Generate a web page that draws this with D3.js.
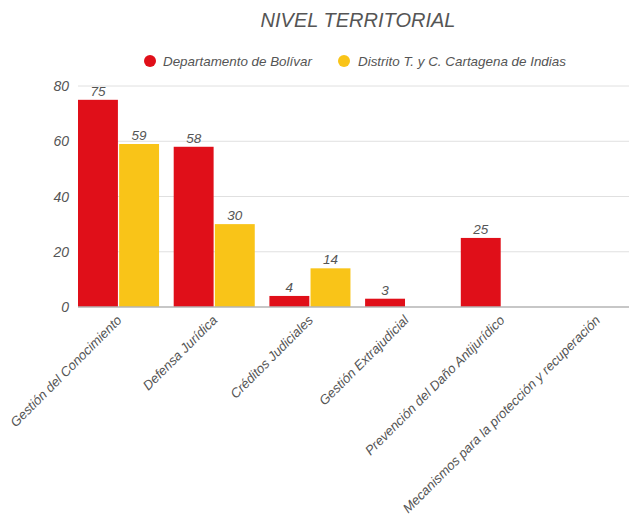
<!DOCTYPE html>
<html><head><meta charset="utf-8">
<script src="https://cdn.jsdelivr.net/npm/d3@7"></script>
<style>body{margin:0;background:#fff}svg{display:block}text{font-family:"Liberation Sans",Arial,sans-serif;font-style:italic;fill:#555}</style>
</head><body>
<script>
const categories = ["Gestión del Conocimiento","Defensa Jurídica","Créditos Judiciales","Gestión Extrajudicial","Prevención del Daño Antijurídico","Mecanismos para la protección y recuperación"];
const seriesNames = ["Departamento de Bolívar","Distrito T. y C. Cartagena de Indias"];
const bolivar = [75,58,4,3,25,null];
const cartagena = [59,30,14,null,null,null];
const yTicks = [0,20,40,60,80];
const colors = ["#e00f19","#f9c418"];

(function(){
const W=629,H=519;
const svg=d3.select("body").append("svg").attr("width",W).attr("height",H);
const mLeft=78, mTop=86, mBottom=307, step=95.7, pad=0.153;
const x=d3.scaleBand().domain(categories).range([mLeft,mLeft+step*(6-pad)]).paddingInner(pad).paddingOuter(0).align(0);
const x1=d3.scaleBand().domain([0,1]).range([0,x.bandwidth()]).paddingInner(0.03);
const y=d3.scaleLinear().domain([0,80]).range([mBottom,mTop]);

svg.append("text").attr("x",358).attr("y",27).attr("text-anchor","middle").style("font-size","20px").text("NIVEL TERRITORIAL");

const leg=[{cx:150,tx:163},{cx:344,tx:358}];
seriesNames.forEach((n,i)=>{
  svg.append("circle").attr("cx",leg[i].cx).attr("cy",61).attr("r",6).attr("fill",colors[i]);
  svg.append("text").attr("x",leg[i].tx).attr("y",65.5).style("font-size","13.4px").text(n);
});

svg.append("g").selectAll("line").data(yTicks.filter(d=>d>0)).join("line")
  .attr("x1",mLeft).attr("x2",W).attr("y1",d=>y(d)).attr("y2",d=>y(d)).attr("stroke","#e0e0e0").attr("stroke-width",1);
svg.append("g").selectAll("text").data(yTicks).join("text")
  .attr("x",69).attr("y",d=>y(d)+5).attr("text-anchor","end").style("font-size","14px").text(d=>d);

const series=[bolivar,cartagena];
series.forEach((vals,si)=>{
  const data=categories.map((c,i)=>({c,v:vals[i]})).filter(d=>d.v!=null);
  svg.append("g").selectAll("rect").data(data).join("rect")
    .attr("x",d=>x(d.c)+x1(si)).attr("width",x1.bandwidth())
    .attr("y",d=>y(d.v)).attr("height",d=>y(0)-y(d.v)).attr("fill",colors[si]);
  svg.append("g").selectAll("text").data(data).join("text")
    .attr("x",d=>x(d.c)+x1(si)+x1.bandwidth()/2).attr("y",d=>y(d.v)-4)
    .attr("text-anchor","middle").style("font-size","13.5px").text(d=>d.v);
});

svg.append("line").attr("x1",mLeft).attr("x2",W).attr("y1",y(0)).attr("y2",y(0)).attr("stroke","#b5b5b5").attr("stroke-width",1.5);

svg.append("g").selectAll("text").data(categories).join("text")
  .attr("transform",d=>`translate(${x(d)+x.bandwidth()/2+4},${mBottom+14}) rotate(-45)`)
  .attr("text-anchor","end").style("font-size","13.2px").text(d=>d);
})();
</script>
</body></html>
